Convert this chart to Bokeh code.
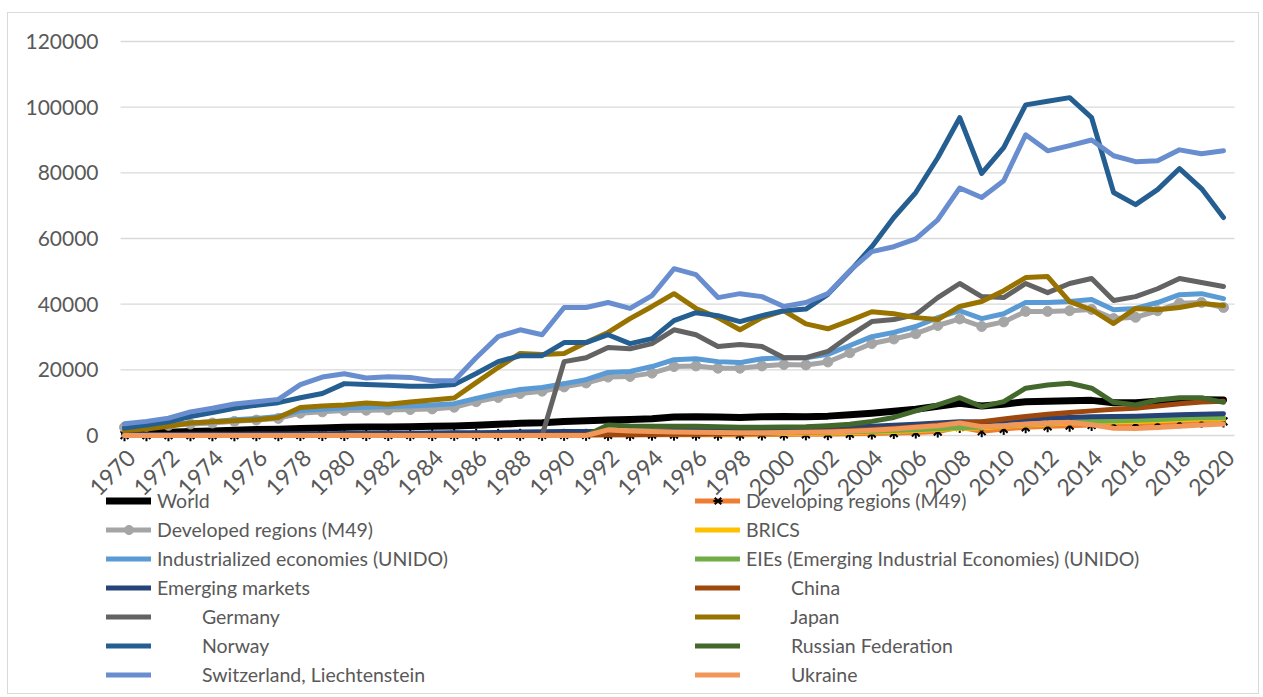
import math
from bokeh.plotting import figure
from bokeh.models import Legend, LegendItem, FixedTicker, NumeralTickFormatter, Range1d, LinearAxis
from bokeh.embed import file_html
from bokeh.resources import INLINE

years = list(range(1970, 2021))
x_tick_labels = ["1970", "1972", "1974", "1976", "1978", "1980", "1982", "1984", "1986", "1988",
                 "1990", "1992", "1994", "1996", "1998", "2000", "2002", "2004", "2006", "2008",
                 "2010", "2012", "2014", "2016", "2018", "2020"]
y_tick_values = [0, 20000, 40000, 60000, 80000, 100000, 120000]

world = [700, 800, 1000, 1200, 1400, 1600, 1800, 1900, 2100, 2300,
         2500, 2600, 2600, 2700, 2800, 2900, 3100, 3400, 3700, 3900,
         4300, 4500, 4700, 4900, 5100, 5600, 5700, 5600, 5500, 5700,
         5800, 5700, 5900, 6300, 6800, 7400, 8000, 8900, 9800, 9000,
         9500, 10300, 10400, 10600, 10700, 10000, 10000, 10400, 10800, 10900, 10800]
developing = [100, 100, 100, 100, 100, 100, 100, 100, 150, 150,
              150, 150, 150, 150, 150, 200, 200, 200, 200, 200,
              200, 200, 200, 200, 250, 250, 250, 250, 250, 300,
              300, 350, 400, 500, 600, 750, 900, 1200, 2600, 1300,
              2000, 2500, 2800, 3000, 3200, 3500, 3600, 3800, 4000, 4200, 4300]
developed = [2500, 2800, 3100, 3500, 3800, 4300, 4700, 5200, 6800, 7200,
             7600, 7700, 7800, 7900, 8100, 8600, 10300, 11600, 12800, 13500,
             14800, 16000, 17800, 18000, 19000, 21000, 21200, 20500, 20500, 21200,
             21600, 21500, 22400, 25200, 28000, 29400, 31000, 33500, 35500, 33200,
             34600, 37800, 37800, 38000, 38400, 35600, 36000, 38000, 40300, 40500, 39000]
brics = [50, 50, 60, 60, 70, 70, 80, 80, 90, 100,
         100, 110, 120, 130, 140, 150, 170, 190, 210, 230,
         250, 270, 300, 330, 360, 400, 430, 460, 500, 540,
         600, 680, 780, 900, 1050, 1250, 1500, 1800, 2200, 2300,
         2800, 3200, 3500, 3800, 4100, 4200, 4300, 4500, 4800, 5000, 5000]
industrialized = [2600, 3000, 3400, 3800, 4200, 4800, 5200, 5800, 7600, 8000,
                  8400, 8600, 8800, 9000, 9300, 9700, 11300, 12800, 14000, 14600,
                  15800, 17000, 19200, 19500, 21000, 23100, 23400, 22500, 22200, 23400,
                  23700, 23700, 24700, 27400, 30100, 31400, 33200, 35900, 38000, 35600,
                  37100, 40500, 40500, 40800, 41400, 38300, 38700, 40500, 42900, 43200, 41700]
eies = [100, 110, 120, 130, 140, 150, 160, 170, 180, 190,
        200, 220, 240, 260, 280, 300, 330, 360, 390, 420,
        450, 480, 500, 540, 580, 620, 660, 700, 740, 780,
        850, 930, 1030, 1150, 1300, 1500, 1750, 2050, 2450, 2550,
        3050, 3450, 3750, 4050, 4350, 4500, 4650, 4850, 5150, 5400, 5400]
emerging = [300, 320, 340, 360, 380, 400, 430, 460, 500, 540,
            580, 620, 660, 700, 750, 800, 850, 950, 1050, 1150,
            1200, 1200, 1250, 1300, 1400, 1500, 1550, 1600, 1650, 1700,
            2000, 2100, 2300, 2550, 2800, 3100, 3400, 3800, 4200, 4100,
            4500, 4900, 5300, 5500, 5700, 5800, 5900, 6100, 6300, 6500, 6600]
china = [30, 30, 30, 30, 30, 30, 30, 30, 30, 30,
         40, 40, 50, 50, 60, 70, 80, 90, 100, 110,
         120, 150, 200, 250, 300, 350, 400, 500, 600, 700,
         900, 1000, 1200, 1500, 1800, 2200, 2700, 3200, 3800, 4200,
         5000, 5800, 6500, 7000, 7500, 8000, 8300, 9000, 9700, 10200, 10400]
germany = [0, 0, 0, 0, 0, 0, 0, 0, 0, 0,
           0, 0, 0, 0, 0, 0, 0, 0, 0, 0,
           22500, 23700, 26800, 26400, 28000, 32200, 30700, 27100, 27700, 27100,
           23700, 23700, 25600, 30400, 34700, 35300, 36800, 42000, 46300, 42300,
           42000, 46300, 43500, 46300, 47800, 41100, 42300, 44700, 47800, 46600, 45400]
japan = [1500, 2000, 2800, 3800, 4200, 4500, 4800, 5500, 8500, 9000,
         9300, 9900, 9500, 10200, 10800, 11400, 16100, 20700, 25000, 24700,
         25000, 28300, 31400, 35600, 39300, 43200, 38700, 35900, 32200, 35900,
         38000, 34000, 32500, 35000, 37700, 37100, 35900, 35300, 39300, 40800,
         44100, 48100, 48400, 40800, 38300, 34100, 38700, 38300, 39000, 40200, 39600]
norway = [2300, 3200, 4200, 5800, 7000, 8300, 9200, 10000, 11500, 12800,
          15800, 15500, 15300, 15000, 15000, 15500, 18900, 22500, 24300, 24300,
          28300, 28300, 30700, 28000, 29500, 35000, 37400, 36500, 34700, 36500,
          38000, 38500, 43000, 50000, 57500, 66400, 74000, 84600, 96800, 79800,
          87700, 100700, 101800, 102900, 96800, 74000, 70300, 74900, 81300, 75200, 66400]
russia = [0, 0, 0, 0, 0, 0, 0, 0, 0, 0,
          0, 0, 0, 0, 0, 0, 0, 0, 0, 0,
          0, 0, 3200, 2900, 2800, 2800, 2800, 2700, 2500, 2500,
          2600, 2700, 3000, 3400, 4300, 5500, 7500, 9300, 11500, 8800,
          10300, 14400, 15400, 15900, 14400, 10100, 9300, 10800, 11500, 11500, 10100]
switzerland = [3600, 4300, 5300, 7200, 8300, 9600, 10300, 11000, 15500, 17800,
               18800, 17500, 17900, 17700, 16700, 16700, 23700, 30100, 32200, 30700,
               39000, 39000, 40500, 38700, 42600, 50800, 49000, 42000, 43200, 42300,
               39300, 40500, 43200, 50200, 56000, 57500, 59900, 65700, 75400, 72500,
               77600, 91600, 86700, 88300, 90000, 85200, 83400, 83700, 87000, 85800, 86700]
ukraine = [0, 0, 0, 0, 0, 0, 0, 0, 0, 0,
           0, 0, 0, 0, 0, 0, 0, 0, 0, 0,
           0, 0, 1700, 1400, 1200, 1100, 1000, 900, 800, 800,
           900, 1000, 1100, 1300, 1600, 2000, 2500, 3000, 3800, 2700,
           3000, 3500, 3800, 4000, 3300, 2200, 2100, 2400, 2800, 3200, 3500]

IND = "\u00a0" * 9
names = ["World", "Developing regions (M49)", "Developed regions (M49)", "BRICS",
         "Industrialized economies (UNIDO)", "EIEs (Emerging Industrial Economies) (UNIDO)",
         "Emerging markets", IND + "China", IND + "Germany", IND + "Japan", IND + "Norway",
         IND + "Russian Federation", IND + "Switzerland, Liechtenstein", IND + "Ukraine"]
series_values = [world, developing, developed, brics, industrialized, eies, emerging,
                 china, germany, japan, norway, russia, switzerland, ukraine]
colors = ["#000000", "#ED7D31", "#A5A5A5", "#FFC000", "#5B9BD5", "#70AD47", "#264478",
          "#9E480E", "#636363", "#997300", "#255E91", "#43682B", "#698ED0", "#F1975A"]
widths = [7, 5, 5, 5, 5, 5, 5, 5, 5, 5, 5, 5, 5, 5]

FONT = "Lato"
TXT = "#595959"

X_LO, X_HI = 1965.268, 2021.456     # frame edges (years); frame holds labels + legend
GRID_X0, GRID_X1 = 1969.82, 2020.5  # plot-area extent (gridlines)
Y_LO, Y_HI = -77665, 127005         # frame extends beyond the plot area on both ends
LABEL_SHIFT = 0.3

p = figure(width=1252, height=682, output_backend="svg", toolbar_location=None,
           x_range=Range1d(X_LO, X_HI), y_range=Range1d(Y_LO, Y_HI),
           min_border_left=12, min_border_right=5, min_border_top=5, min_border_bottom=5,
           x_axis_location=None, y_axis_location=None)
p.extra_x_ranges = {"lab": Range1d(X_LO - LABEL_SHIFT, X_HI - LABEL_SHIFT)}
p.outline_line_color = None
p.background_fill_color = "white"
p.border_fill_color = "white"
p.styles = {"margin-left": "7px", "margin-top": "12px", "border": "1px solid #D9D9D9"}

# horizontal gridlines at the y ticks, spanning the plot area
p.xgrid.visible = False
p.ygrid.visible = False
p.segment(x0=[GRID_X0] * len(y_tick_values), x1=[GRID_X1] * len(y_tick_values),
          y0=y_tick_values, y1=y_tick_values, line_color="#D9D9D9", line_width=1.3)

yaxis = LinearAxis(fixed_location=GRID_X0)
p.add_layout(yaxis, "left")
yaxis.ticker = FixedTicker(ticks=y_tick_values)
yaxis.formatter = NumeralTickFormatter(format="0")
yaxis.axis_line_color = None
yaxis.major_tick_line_color = None
yaxis.minor_tick_line_color = None
yaxis.major_label_standoff = 16
yaxis.major_label_text_font = FONT
yaxis.major_label_text_font_size = "21px"
yaxis.major_label_text_color = TXT

xaxis = LinearAxis(x_range_name="lab", fixed_location=0)
p.add_layout(xaxis, "below")
xaxis.ticker = FixedTicker(ticks=[int(s) for s in x_tick_labels])
xaxis.major_label_overrides = {int(s): s for s in x_tick_labels}
xaxis.axis_line_color = None
xaxis.major_tick_line_color = None
xaxis.minor_tick_line_color = None
xaxis.major_label_orientation = math.pi / 4
xaxis.major_label_standoff = 12
xaxis.major_label_text_font = FONT
xaxis.major_label_text_font_size = "23px"
xaxis.major_label_text_color = TXT

items = []
for name, vals, col, w in zip(names, series_values, colors, widths):
    rs = [p.line(years, vals, line_color=col, line_width=w, line_cap="round", line_join="round")]
    if name.startswith("Developed"):
        rs.append(p.scatter(years, vals, marker="circle", size=10, fill_color=col, line_color=col))
    if name.startswith("Developing"):
        rs.append(p.scatter(years, vals, marker="x", size=11, line_color="black", line_width=2))
        rs.append(p.scatter(years, vals, marker="dash", angle=math.pi / 2, size=12,
                            line_color="black", line_width=2))
    items.append(LegendItem(label=name, renderers=rs))

left_items = items[0::2]
right_items = items[1::2]


def make_legend(its, loc):
    return Legend(items=its, location=loc, orientation="vertical",
                  glyph_width=45, glyph_height=23, label_height=23, spacing=6,
                  padding=0, margin=0, label_standoff=6,
                  border_line_color=None, background_fill_alpha=0,
                  label_text_font=FONT, label_text_font_size="19.5px",
                  label_text_color=TXT)


p.add_layout(make_legend(left_items, (86, 4)))
p.add_layout(make_legend(right_items, (675, 4)))

open("out.html", "w").write(file_html(p, INLINE))
